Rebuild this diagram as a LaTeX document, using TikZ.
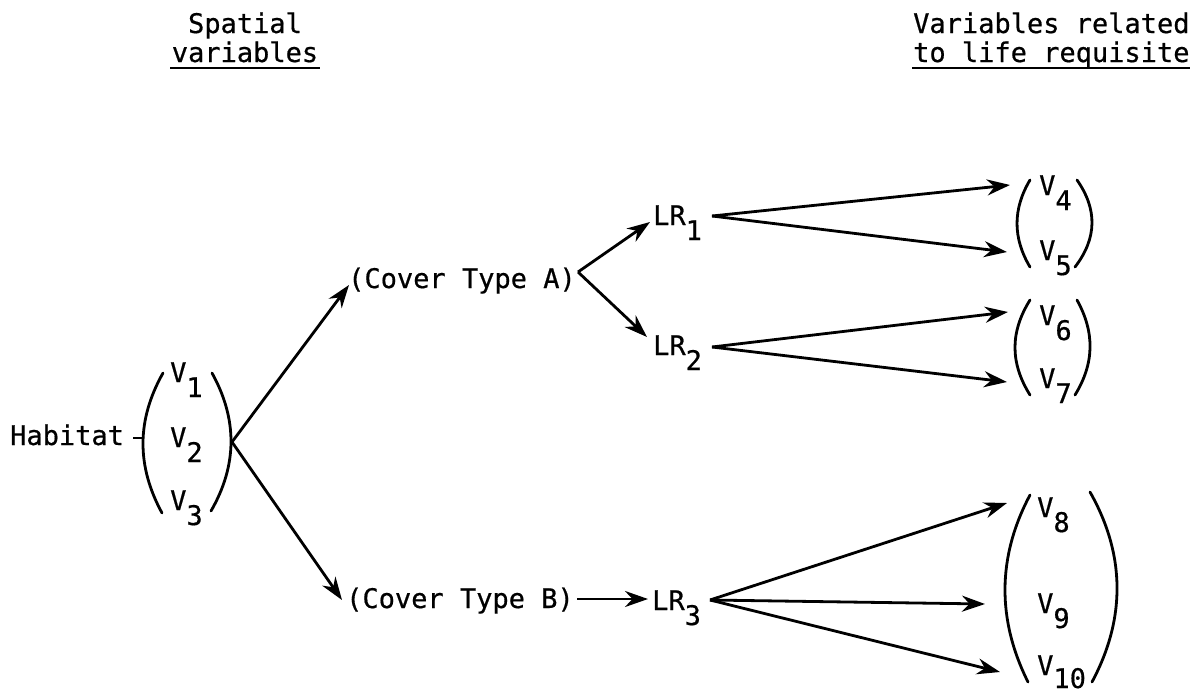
\documentclass[tikz,border=0pt]{standalone}
\usepackage{fontspec}
\setmainfont{DejaVu Sans Mono}[FakeBold=0.6]
\usetikzlibrary{arrows.meta}
\newcommand\sbs[1]{\raisebox{-15pt}{#1}}
\begin{document}
\begin{tikzpicture}[x=1pt,y=-1pt,
  txt/.style={inner sep=0pt, anchor=base west, font=\fontsize{27}{29}\selectfont},
  arr/.style={line width=2.8pt, -{Stealth[length=23pt,width=16pt]}},
  parenline/.style={line width=2.8pt, line cap=round},
  rule/.style={line width=2.2pt}]
\useasboundingbox (0,0) rectangle (1203,696);

% headers
\node[txt, anchor=base] (hdrL1) at (245,33) {Spatial};
\node[txt, anchor=base] (hdrL2) at (245,62) {variables};
\node[txt] (hdrR1) at (913,33) {Variables related};
\node[txt] (hdrR2) at (913,62) {to life requisite};
\coordinate (ulLa) at (170,68); \coordinate (ulLb) at (320,68);
\coordinate (ulRa) at (912,68); \coordinate (ulRb) at (1190,68);
\draw[rule] (ulLa) -- (ulLb);
\draw[rule] (ulRa) -- (ulRb);

% habitat
\node[txt] (habitat) at (10,445) {Habitat};
\coordinate (dashA) at (133,438); \coordinate (dashB) at (143,438);
\draw[line width=2.8pt] (dashA) -- (dashB);
\node[txt] (v1) at (170,382) {V\sbs{1}};
\node[txt] (v2) at (170,447) {V\sbs{2}};
\node[txt] (v3) at (170,510) {V\sbs{3}};
\draw[parenline] (163,373) .. controls (136.5,420) and (136.5,466) .. (162,513);
\draw[parenline] (212,373) .. controls (237.5,419) and (237.5,465) .. (211,511);

% cover types
\node[txt] (coverA) at (348,288) {(Cover Type A)};
\node[txt] (coverB) at (346,608) {(Cover Type B)};

% life requisites
\node[txt] (lr1) at (653,225) {LR\sbs{1}};
\node[txt] (lr2) at (653,355) {LR\sbs{2}};
\node[txt] (lr3) at (652,610) {LR\sbs{3}};

% right variables
\node[txt] (v4) at (1039,195) {V\sbs{4}};
\node[txt] (v5) at (1039,260) {V\sbs{5}};
\node[txt] (v6) at (1039,325) {V\sbs{6}};
\node[txt] (v7) at (1039,388) {V\sbs{7}};
\node[txt] (v8) at (1037,517) {V\sbs{8}};
\node[txt] (v9) at (1037,613) {V\sbs{9}};
\node[txt] (v10) at (1037,675) {V\raisebox{-13pt}{10}};

\draw[parenline] (1030,180) .. controls (1012.7,209) and (1012.7,238) .. (1030,267);
\draw[parenline] (1077,180) .. controls (1097.3,209) and (1097.3,238) .. (1075,267);
\draw[parenline] (1030,300) .. controls (1010,332) and (1010,363) .. (1030,395);
\draw[parenline] (1077,300) .. controls (1094.7,332) and (1094.7,363) .. (1075,395);
\draw[parenline] (1030,495) .. controls (997,557) and (997,620) .. (1028,682);
\draw[parenline] (1090,492) .. controls (1125.7,555) and (1125.7,619) .. (1092,682);

% connector endpoints
\coordinate (habOut) at (232,442);
\coordinate (coverAin) at (349,285);
\coordinate (coverBin) at (342,600);
\coordinate (coverAout) at (578,272);
\coordinate (lr1in) at (650,222);
\coordinate (lr2in) at (647,337);
\coordinate (coverBout) at (577,599);
\coordinate (lr3in) at (648,599);
\coordinate (lr1out) at (712,216);
\coordinate (lr2out) at (712,347);
\coordinate (lr3out) at (710,600);
\coordinate (v4in) at (1010,185);
\coordinate (v5in) at (1007,252);
\coordinate (v6in) at (1008,312);
\coordinate (v7in) at (1007,382);
\coordinate (v8in) at (1007,503);
\coordinate (v9in) at (985,604);
\coordinate (v10in) at (1000,672);

% connectors
\draw[arr] (habOut) -- (coverAin);
\draw[arr] (habOut) -- (coverBin);
\draw[arr] (coverAout) -- (lr1in);
\draw[arr] (coverAout) -- (lr2in);
\draw[arr] (coverBout) -- (lr3in);
\draw[arr] (lr1out) -- (v4in);
\draw[arr] (lr1out) -- (v5in);
\draw[arr] (lr2out) -- (v6in);
\draw[arr] (lr2out) -- (v7in);
\draw[arr] (lr3out) -- (v8in);
\draw[arr] (lr3out) -- (v9in);
\draw[arr] (lr3out) -- (v10in);
\end{tikzpicture}
\end{document}
